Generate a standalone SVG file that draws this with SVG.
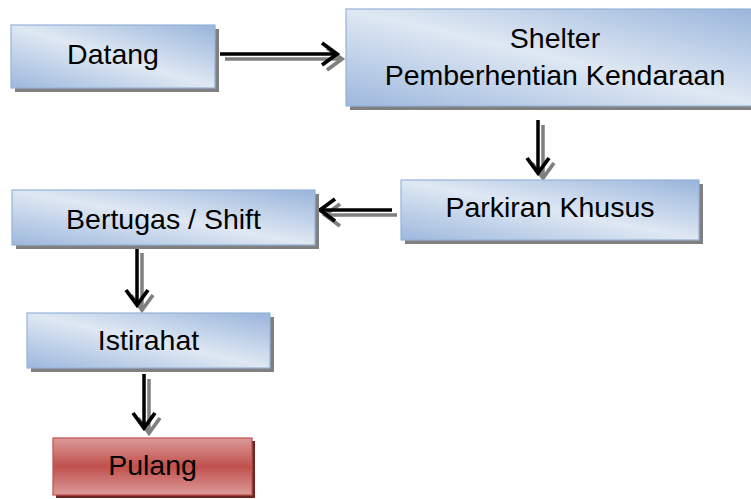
<svg xmlns="http://www.w3.org/2000/svg" width="751" height="499" viewBox="0 0 751 499">
<defs>
<linearGradient id="gBlue" x1="1" y1="0" x2="0" y2="1">
<stop offset="0" stop-color="#98b4db"/>
<stop offset="0.5" stop-color="#dfe8f3"/>
<stop offset="1" stop-color="#9db8dd"/>
</linearGradient>
<linearGradient id="gRed" x1="0" y1="0" x2="0" y2="1">
<stop offset="0" stop-color="#dc9b99"/>
<stop offset="0.5" stop-color="#c0504d"/>
<stop offset="1" stop-color="#dc9b99"/>
</linearGradient>
<filter id="blur" x="-10%" y="-10%" width="120%" height="120%">
<feGaussianBlur stdDeviation="0.7"/>
</filter>
<marker id="hb" markerUnits="userSpaceOnUse" viewBox="0 0 20 26" refX="17" refY="13" markerWidth="20" markerHeight="26" orient="auto" overflow="visible">
<path d="M2,2 L17,13 L2,24" fill="none" stroke="#000" stroke-width="3.8"/>
</marker>
<marker id="hg" markerUnits="userSpaceOnUse" viewBox="0 0 20 26" refX="17" refY="13" markerWidth="20" markerHeight="26" orient="auto" overflow="visible">
<path d="M2,2 L17,13 L2,24" fill="none" stroke="#7f7f7f" stroke-width="3.8"/>
</marker>
</defs>
<style>
.box{fill:url(#gBlue);stroke:#95b3d7;stroke-width:1.2}
.red{fill:url(#gRed);stroke:#c0504d;stroke-width:1.2}
.sh{fill:#808080;filter:url(#blur)}
.shr{fill:#6e2624;filter:url(#blur)}
.t{font-family:"Liberation Sans",Arial,sans-serif;font-size:28.5px;fill:#000;text-anchor:middle}
.cb{stroke:#000;stroke-width:3.5;fill:none;marker-end:url(#hb)}
.cg{stroke:#7f7f7f;stroke-width:3.5;fill:none;marker-end:url(#hg)}
</style>
<rect width="751" height="499" fill="#fff"/>

<g id="connectors">
<line class="cg" x1="225" y1="59" x2="342" y2="59"/>
<line class="cb" x1="220" y1="54" x2="337" y2="54"/>
<line class="cg" x1="543" y1="125" x2="543" y2="178"/>
<line class="cb" x1="538" y1="120" x2="538" y2="173"/>
<line class="cg" x1="397" y1="215" x2="325" y2="215"/>
<line class="cb" x1="392" y1="210" x2="320" y2="210"/>
<line class="cg" x1="142" y1="253" x2="142" y2="310"/>
<line class="cb" x1="137" y1="248" x2="137" y2="305"/>
<line class="cg" x1="149" y1="379" x2="149" y2="433"/>
<line class="cb" x1="144" y1="374" x2="144" y2="428"/>
</g>

<g id="datang">
<rect class="sh" x="15" y="29" width="204" height="63"/>
<rect class="box" x="11" y="25" width="204" height="63"/>
<text class="t" x="113" y="64">Datang</text>
</g>

<g id="shelter">
<rect class="sh" x="350" y="13" width="420" height="97"/>
<rect class="box" x="346" y="9" width="418" height="97"/>
<text class="t" x="555" y="48">Shelter</text>
<text class="t" x="555" y="85">Pemberhentian Kendaraan</text>
</g>

<g id="parkiran">
<rect class="sh" x="405" y="184" width="298" height="60"/>
<rect class="box" x="401" y="180" width="298" height="60"/>
<text class="t" x="550" y="217">Parkiran Khusus</text>
</g>

<g id="bertugas">
<rect class="sh" x="16" y="194" width="303" height="55"/>
<rect class="box" x="12" y="190" width="303" height="55"/>
<text class="t" x="163.5" y="229">Bertugas / Shift</text>
</g>

<g id="istirahat">
<rect class="sh" x="31" y="317" width="243" height="55"/>
<rect class="box" x="27" y="313" width="243" height="55"/>
<text class="t" x="148.5" y="350">Istirahat</text>
</g>

<g id="pulang">
<rect class="shr" x="56" y="441" width="199" height="57"/>
<rect class="red" x="53" y="438" width="199" height="57"/>
<text class="t" x="152.5" y="475">Pulang</text>
</g>
</svg>
